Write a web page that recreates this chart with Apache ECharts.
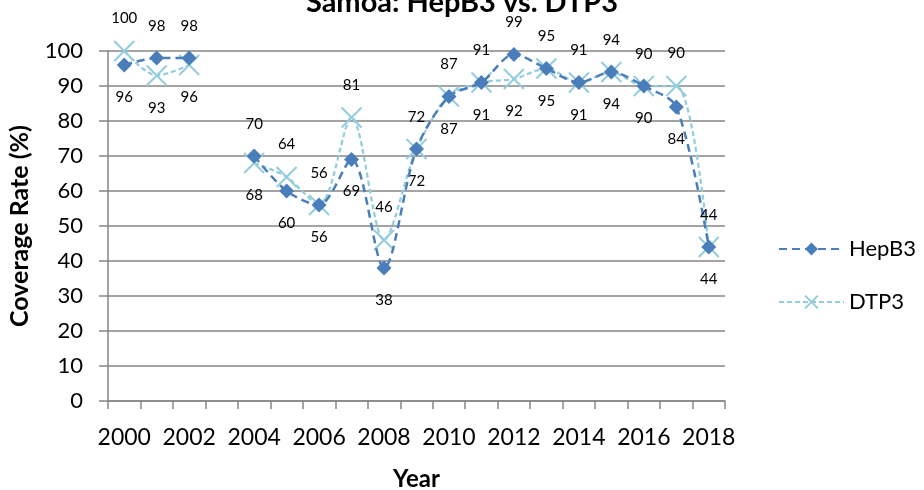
<!DOCTYPE html>
<html>
<head>
<meta charset="utf-8">
<script src="https://cdn.jsdelivr.net/npm/echarts@6/dist/echarts.min.js"></script>
<style>
  html, body { margin: 0; padding: 0; background: #fff; }
  #chart { width: 924px; height: 490px; }
</style>
</head>
<body>
<div id="chart"></div>
<script>
// data
const years = ['2000', '2001', '2002', '2003', '2004', '2005', '2006', '2007', '2008', '2009',
  '2010', '2011', '2012', '2013', '2014', '2015', '2016', '2017', '2018'];
const hepB3 = [96, 98, 98, null, 70, 60, 56, 69, 38, 72, 87, 91, 99, 95, 91, 94, 90, 84, 44];
const dtp3 = [100, 93, 96, null, 68, 64, 56, 81, 46, 72, 87, 91, 92, 95, 91, 94, 90, 90, 44];

const FONT = 'Lato, "Open Sans", sans-serif';
const HEP_COLOR = '#4A7EBB';
const DTP_COLOR = '#93CDDD';
const CROSS = 'path://M0,0 L10,10 M10,0 L0,10';

// higher value gets its label on top, the other one below
function withLabels(values, others, winsTie) {
  return values.map(function (v, i) {
    if (v == null) return null;
    const o = others[i];
    const above = o == null || v > o || (v === o && winsTie);
    return { value: v, label: { position: above ? 'top' : 'bottom' } };
  });
}

const chart = echarts.init(document.getElementById('chart'));

chart.setOption({
  animation: false,
  textStyle: { fontFamily: FONT },
  title: {
    text: 'Samoa: HepB3 vs. DTP3',
    left: 457,
    textAlign: 'center',
    top: -17,
    textStyle: { fontFamily: FONT, fontSize: 29, fontWeight: 'bold', color: '#000' }
  },
  legend: {
    orient: 'vertical',
    left: 773,
    top: 233,
    itemWidth: 65,
    itemHeight: 16,
    itemGap: 31,
    textStyle: { fontFamily: FONT, fontSize: 22, color: '#000' },
    data: ['HepB3', 'DTP3']
  },
  grid: { left: 108, right: 199, top: 51, bottom: 89, outerBoundsMode: 'none' },
  xAxis: {
    type: 'category',
    data: years,
    name: 'Year',
    nameLocation: 'middle',
    nameGap: 66,
    nameTextStyle: { fontFamily: FONT, fontSize: 24, fontWeight: 'bold', color: '#000' },
    axisLine: { lineStyle: { color: '#868686', width: 1.5 } },
    axisTick: { show: true, interval: 0, length: 8, lineStyle: { color: '#868686', width: 1.5 } },
    axisLabel: { interval: 1, margin: 25, fontFamily: FONT, fontSize: 23, color: '#000' },
    splitLine: { show: false }
  },
  yAxis: {
    type: 'value',
    min: 0,
    max: 100,
    interval: 10,
    name: 'Coverage Rate (%)',
    nameLocation: 'middle',
    nameGap: 76,
    nameRotate: 90,
    nameTextStyle: { fontFamily: FONT, fontSize: 25, fontWeight: 'bold', color: '#000' },
    axisLine: { show: true, lineStyle: { color: '#868686', width: 1.5 } },
    axisTick: { show: true, length: 9, lineStyle: { color: '#868686', width: 1.5 } },
    axisLabel: { margin: 25, fontFamily: FONT, fontSize: 22, color: '#000' },
    splitLine: { lineStyle: { color: '#868686', width: 1.5 } }
  },
  series: [
    {
      name: 'HepB3',
      type: 'line',
      data: withLabels(hepB3, dtp3, true),
      smooth: 0.3,
      connectNulls: false,
      symbol: 'diamond',
      symbolSize: 15,
      itemStyle: { color: HEP_COLOR },
      lineStyle: { color: HEP_COLOR, width: 2.5, type: [8, 5] },
      label: { show: true, distance: 17, fontFamily: FONT, fontSize: 15, color: '#000' },
      z: 3
    },
    {
      name: 'DTP3',
      type: 'line',
      data: withLabels(dtp3, hepB3, false),
      smooth: 0.3,
      connectNulls: false,
      symbol: CROSS,
      symbolSize: 20,
      itemStyle: { color: DTP_COLOR, borderColor: DTP_COLOR, borderWidth: 2 },
      lineStyle: { color: DTP_COLOR, width: 2.25, type: [5, 3] },
      label: { show: true, distance: 14, fontFamily: FONT, fontSize: 15, color: '#000' },
      z: 2
    }
  ]
});
</script>
</body>
</html>
